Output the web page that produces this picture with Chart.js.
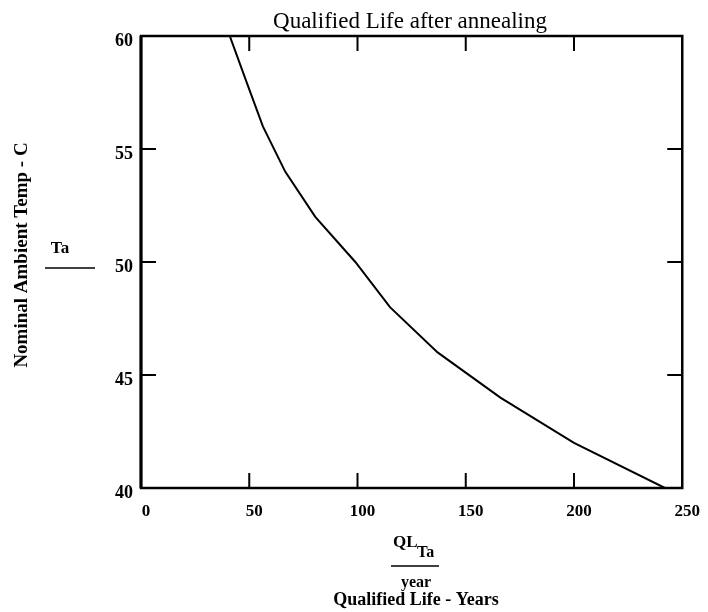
<!DOCTYPE html>
<html>
<head>
<meta charset="utf-8">
<script src="https://cdn.jsdelivr.net/npm/chart.js@4/dist/chart.umd.min.js"></script>
<style>
  body { margin: 0; background: #fff; }
  #wrap { width: 708px; height: 612px; }
</style>
</head>
<body>
<div id="wrap"><canvas id="myChart" width="708" height="612"></canvas></div>
<script>
// ambient temperature (C) and qualified life (years)
const tempC = [40, 42, 44, 46, 48, 50, 52, 54, 56, 58, 60];
const lifeYears = [242, 200, 166, 137, 115, 99, 80.5, 66.6, 56.3, 48.6, 41];

const xTicks = [0, 50, 100, 150, 200, 250];
const yTicks = [40, 45, 50, 55, 60];

const serif = "'Liberation Serif', 'Times New Roman', serif";

// frame, inward tick marks and the text around the plot
const framePlugin = {
  id: "frame",
  afterDraw(chart) {
    const ctx = chart.ctx;
    const { left, right, top, bottom } = chart.chartArea;
    const xs = chart.scales.x;
    const ys = chart.scales.y;

    ctx.save();
    ctx.strokeStyle = "#000";
    ctx.lineWidth = 2.5;
    ctx.strokeRect(left, top, right - left, bottom - top);
    ctx.lineWidth = 3;
    ctx.beginPath();
    ctx.moveTo(left, top);
    ctx.lineTo(left, bottom);
    ctx.stroke();

    // inner ticks on all four sides
    ctx.lineWidth = 2;
    ctx.beginPath();
    xTicks.slice(1, -1).forEach(v => {
      const px = xs.getPixelForValue(v);
      ctx.moveTo(px, bottom);
      ctx.lineTo(px, bottom - 15);
      ctx.moveTo(px, top);
      ctx.lineTo(px, top + 15);
    });
    yTicks.slice(1, -1).forEach(v => {
      const py = ys.getPixelForValue(v);
      ctx.moveTo(left, py);
      ctx.lineTo(left + 15, py);
      ctx.moveTo(right, py);
      ctx.lineTo(right - 15, py);
    });
    ctx.stroke();

    ctx.fillStyle = "#000";
    ctx.textBaseline = "alphabetic";

    // title
    ctx.font = "23px " + serif;
    ctx.textAlign = "center";
    ctx.fillText("Qualified Life after annealing", 410, 28);

    // y axis label
    ctx.font = "bold 17px " + serif;
    ctx.fillText("Ta", 60, 253);
    ctx.lineWidth = 1.5;
    ctx.beginPath();
    ctx.moveTo(45, 268);
    ctx.lineTo(95, 268);
    ctx.stroke();

    ctx.save();
    ctx.translate(27, 255);
    ctx.rotate(-Math.PI / 2);
    ctx.font = "bold 19px " + serif;
    ctx.fillText("Nominal Ambient Temp - C", 0, 0);
    ctx.restore();

    // x axis label: QL_Ta / year
    ctx.textAlign = "left";
    ctx.font = "bold 17px " + serif;
    ctx.fillText("QL", 393, 547);
    ctx.font = "bold 16px " + serif;
    ctx.fillText("Ta", 417, 557);
    ctx.beginPath();
    ctx.moveTo(391, 566);
    ctx.lineTo(439, 566);
    ctx.stroke();
    ctx.textAlign = "center";
    ctx.font = "bold 16px " + serif;
    ctx.fillText("year", 416, 587);
    ctx.font = "bold 18px " + serif;
    ctx.fillText("Qualified Life - Years", 416, 605);
    ctx.restore();
  }
};

const ctx = document.getElementById("myChart").getContext("2d");

const myChart = new Chart(ctx, {
  type: "scatter",
  data: {
    datasets: [{
      label: "QL",
      data: tempC.map((t, i) => ({ x: lifeYears[i], y: t })),
      showLine: true,
      borderColor: "#000",
      borderWidth: 2,
      pointRadius: 0,
      fill: false
    }]
  },
  options: {
    responsive: false,
    animation: false,
    layout: { padding: { left: 0, top: 36, right: 20, bottom: 0 } },
    plugins: {
      legend: { display: false },
      tooltip: { enabled: false },
      title: { display: false }
    },
    scales: {
      x: {
        type: "linear",
        min: 0,
        max: 250,
        afterBuildTicks: s => { s.ticks = xTicks.map(v => ({ value: v })); },
        afterFit: s => { s.height = 124; },
        grid: { display: false, drawTicks: false },
        border: { display: false },
        ticks: {
          color: "#000",
          font: { family: serif, size: 17, weight: "bold" },
          padding: 13,
          labelOffset: 5,
          maxRotation: 0
        }
      },
      y: {
        type: "linear",
        min: 40,
        max: 60,
        afterBuildTicks: s => { s.ticks = yTicks.map(v => ({ value: v })); },
        afterFit: s => { s.width = 141; },
        grid: { display: false, drawTicks: false },
        border: { display: false },
        ticks: {
          color: "#000",
          font: { family: serif, size: 18, weight: "bold" },
          padding: 8,
          labelOffset: 5
        }
      }
    }
  },
  plugins: [framePlugin]
});
</script>
</body>
</html>
